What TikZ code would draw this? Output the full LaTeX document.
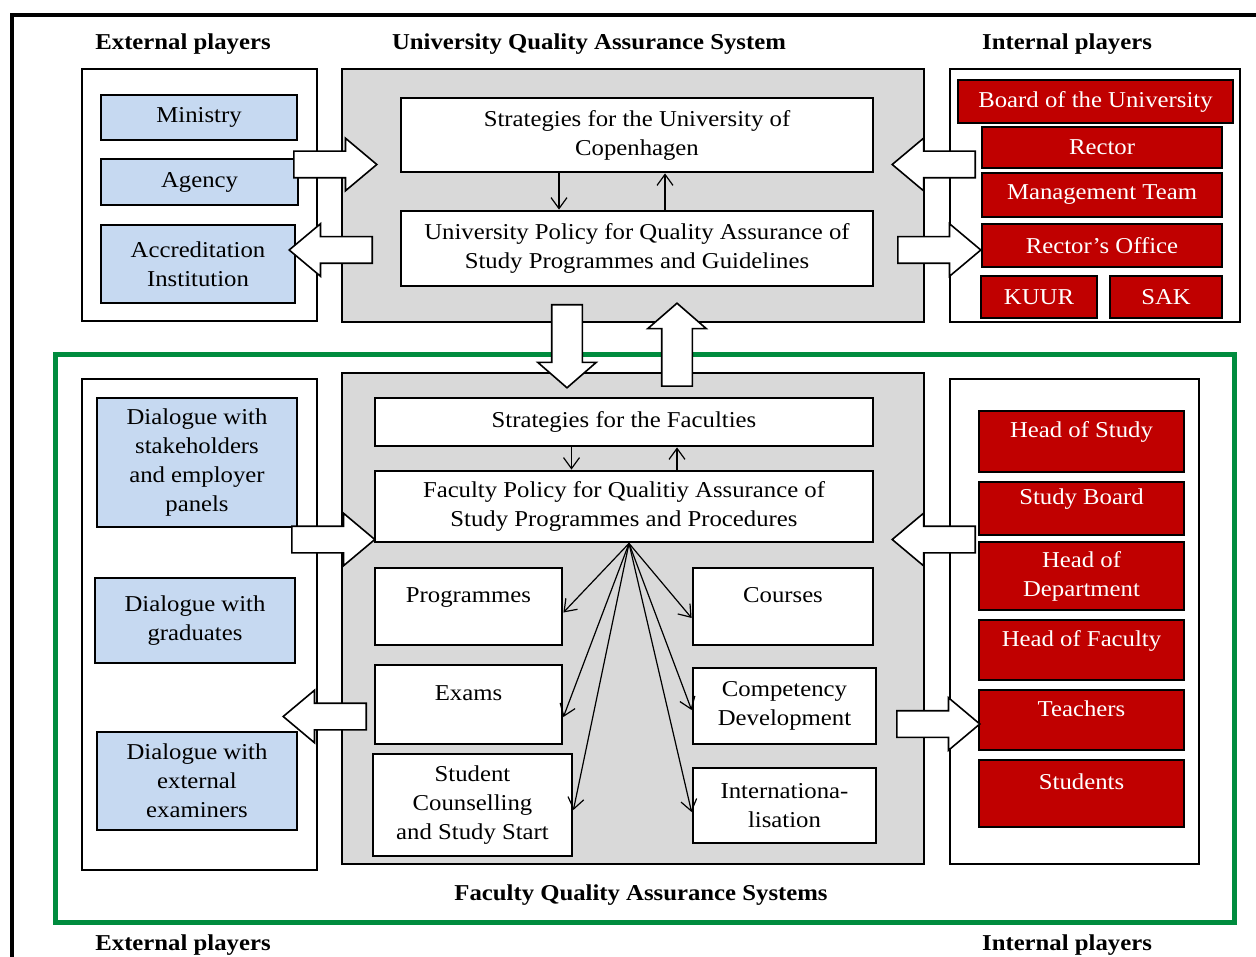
\documentclass[tikz,border=0pt]{standalone}
\usepackage{fontspec}
\setmainfont{Liberation Serif}[FakeStretch=1.09]
\usepackage{tikz}
\usetikzlibrary{arrows.meta, shapes.arrows, positioning}
\definecolor{boxblue}{RGB}{198,217,241}
\definecolor{boxred}{RGB}{192,0,0}
\definecolor{sysgray}{RGB}{217,217,217}
\definecolor{facgreen}{RGB}{0,140,62}

\begin{document}
\begin{tikzpicture}[x=1pt, y=-1pt,
    txt/.style={font=\fontsize{22.7}{29}\selectfont, align=center},
    head/.style={font=\fontsize{22.7}{29}\selectfont\bfseries},
    frame/.style={draw, line width=2.2pt, fill=white, inner sep=0pt},
    sys/.style={draw, line width=2.8pt, fill=sysgray, inner sep=0pt},
    wbox/.style={txt, draw, line width=2.8pt, fill=white, inner sep=0pt},
    ext/.style={txt, draw, line width=2.8pt, fill=boxblue, inner sep=0pt},
    int/.style={txt, draw, line width=2.8pt, fill=boxred, text=white, inner sep=0pt},
    upper/.style={text height=16pt, text depth=24pt},
    blk/.style={single arrow, draw, line width=1.6pt, fill=white, inner sep=0pt,
        text height=25pt, text depth=0pt, single arrow head extend=13pt,
        single arrow tip angle=80, minimum height=83pt},
    vblk/.style={blk, text height=29pt, single arrow head extend=14pt,
        single arrow tip angle=98},
    link/.style={-{Straight Barb[length=11pt,width=16pt]}, line width=1.2pt}]

    \useasboundingbox (0,0) rectangle (1256,957);
    \draw[line width=4pt] (12,957) -- (12,15) -- (1256,15);

    \node[head] (extHead) at (183,44) {External players};
    \node[head] (uniHead) at (589,44) {University Quality Assurance System};
    \node[head] (intHead) at (1067,44) {Internal players};

    % university level
    \node[frame, minimum width=235pt, minimum height=252pt] (extTop) at (199.5,195) {};
    \node[sys, minimum width=582pt, minimum height=253pt] (uniSys) at (633,195.5) {};
    \node[frame, minimum width=290pt, minimum height=253pt] (intTop) at (1095,195.5) {};

    \node[ext, minimum width=196pt, minimum height=45pt] (ministry) at (199,117.5) {Ministry};
    \node[ext, minimum width=197pt, minimum height=46pt] (agency) at (199.5,182) {Agency};
    \node[ext, minimum width=194pt, minimum height=78pt] (accred) at (198,264) {Accreditation\\Institution};

    \node[wbox, minimum width=472pt, minimum height=74pt] (stratUni) at (637,135) {Strategies for the University of\\Copenhagen};
    \node[wbox, minimum width=472pt, minimum height=75pt] (polUni) at (637,248.5) {University Policy for Quality Assurance of\\Study Programmes and Guidelines};
    \draw[link] ([xshift=-78pt]stratUni.south) -- ([xshift=-78pt]polUni.north);
    \draw[link] ([xshift=28pt]polUni.north) -- ([xshift=28pt]stratUni.south);

    \node[int, minimum width=275pt, minimum height=43pt] (board) at (1095.5,101.5) {Board of the University};
    \node[int, minimum width=240pt, minimum height=41pt] (rector) at (1102,147.5) {Rector};
    \node[int, minimum width=240pt, minimum height=44pt] (mgmt) at (1102,195) {Management Team};
    \node[int, minimum width=240pt, minimum height=43pt] (office) at (1102,245.5) {Rector’s Office};
    \node[int, minimum width=116pt, minimum height=42pt] (kuur) at (1039,297) {KUUR};
    \node[int, minimum width=112pt, minimum height=42pt] (sak) at (1166,297) {SAK};

    % faculty level
    \draw[facgreen, line width=5pt] (55,355) rectangle (1234,922);
    \node[frame, minimum width=235pt, minimum height=491pt] (extBot) at (199.5,624.5) {};
    \node[sys, minimum width=582pt, minimum height=491pt] (facSys) at (633,618.5) {};
    \node[frame, minimum width=249pt, minimum height=485pt] (intBot) at (1074.5,621.5) {};

    \node[ext, minimum width=200pt, minimum height=129pt] (stake) at (197,462.5) {Dialogue with\\stakeholders\\and employer\\panels};
    \node[ext, minimum width=200pt, minimum height=85pt] (grad) at (195,620.5) {Dialogue with\\graduates};
    \node[ext, minimum width=200pt, minimum height=98pt] (examiners) at (197,781) {Dialogue with\\external\\examiners};

    \node[wbox, minimum width=498pt, minimum height=48pt] (stratFac) at (624,422) {Strategies for the Faculties};
    \node[wbox, minimum width=498pt, minimum height=71pt] (polFac) at (624,506.5) {Faculty Policy for Qualitiy Assurance of\\Study Programmes and Procedures};
    \draw[link] ([xshift=-52.5pt]stratFac.south) -- ([xshift=-52.5pt]polFac.north);
    \draw[link] ([xshift=53pt]polFac.north) -- ([xshift=53pt]stratFac.south);

    \node[wbox, upper, minimum width=187pt, minimum height=77pt] (prog) at (468.5,606.5) {Programmes};
    \node[wbox, upper, minimum width=187pt, minimum height=79pt] (exams) at (468.5,704.5) {Exams};
    \node[wbox, minimum width=199pt, minimum height=102pt] (couns) at (472.5,805) {Student\\Counselling\\and Study Start};
    \node[wbox, upper, minimum width=180pt, minimum height=77pt] (courses) at (783,606.5) {Courses};
    \node[wbox, minimum width=183pt, minimum height=76pt] (comp) at (784.5,706) {Competency\\Development};
    \node[wbox, minimum width=183pt, minimum height=75pt] (intl) at (784.5,805.5) {Internationa-\\lisation};

    \coordinate (fan) at ([xshift=5pt]polFac.south);
    \draw[link] (fan) -- ([yshift=-6pt]prog.east);
    \draw[link] (fan) -- ([yshift=-12.5pt]exams.east);
    \draw[link] (fan) -- ([yshift=-5pt]couns.east);
    \draw[link] (fan) -- ([yshift=-11.5pt]courses.west);
    \draw[link] (fan) -- ([yshift=-4pt]comp.west);
    \draw[link] (fan) -- ([yshift=-6.5pt]intl.west);

    \node[int, upper, minimum width=205pt, minimum height=61pt] (hos) at (1081.5,441.5) {Head of Study};
    \node[int, upper, minimum width=205pt, minimum height=53pt] (board2) at (1081.5,508.5) {Study Board};
    \node[int, minimum width=205pt, minimum height=68pt] (hod) at (1081.5,576) {Head of\\Department};
    \node[int, upper, minimum width=205pt, minimum height=60pt] (hof) at (1081.5,650) {Head of Faculty};
    \node[int, upper, minimum width=205pt, minimum height=60pt] (teach) at (1081.5,720) {Teachers};
    \node[int, upper, minimum width=205pt, minimum height=67pt] (stud) at (1081.5,793.5) {Students};

    % block arrows
    \node[blk, anchor=tail] (a1) at (293,164.5) {};
    \node[blk, shape border rotate=180, anchor=tail] (a2) at (373,250) {};
    \node[blk, shape border rotate=180, anchor=tail] (a3) at (976,164.5) {};
    \node[blk, anchor=tail] (a4) at (897,250) {};
    \node[vblk, rotate=-90, anchor=tail] (a5) at (567,304) {};
    \node[vblk, rotate=90, anchor=tail] (a6) at (677,387) {};
    \node[blk, anchor=tail] (a7) at (291,539.5) {};
    \node[blk, shape border rotate=180, anchor=tail] (a8) at (367,716.5) {};
    \node[blk, shape border rotate=180, anchor=tail] (a9) at (976,539.5) {};
    \node[blk, anchor=tail] (a10) at (896,724) {};

    \node[head] (facHead) at (641,895) {Faculty Quality Assurance Systems};
    \node[head] (extFoot) at (183,945) {External players};
    \node[head] (intFoot) at (1067,945) {Internal players};
\end{tikzpicture}
\end{document}
